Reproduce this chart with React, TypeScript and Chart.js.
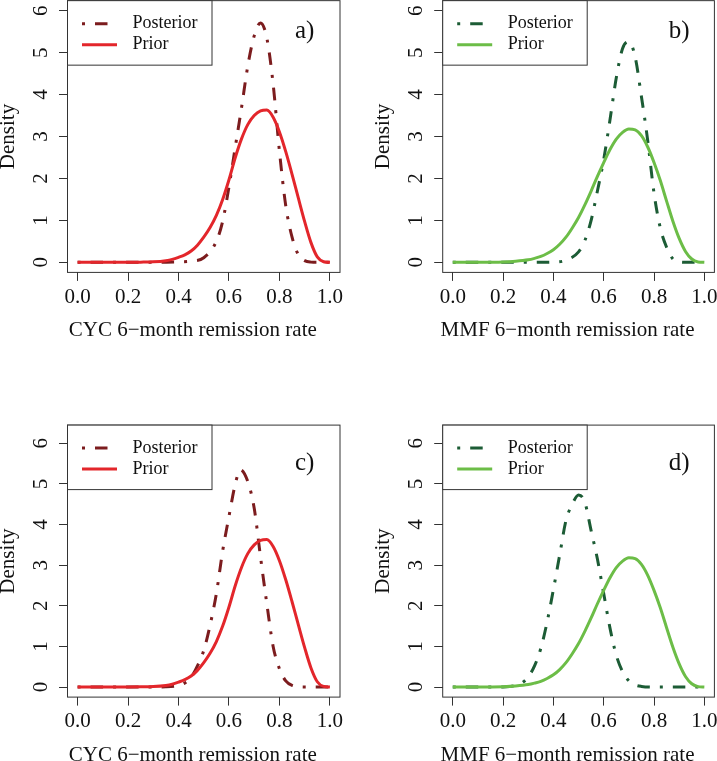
import React, { useEffect, useRef } from "react";
import { Chart, registerables } from "chart.js";

Chart.register(...registerables);

// ---------- DATA ----------
const xTickValues = [0, 0.2, 0.4, 0.6, 0.8, 1.0];
const yTickValues = [0, 1, 2, 3, 4, 5, 6];

// CYC prior (panels a and c)
const priorCycX = [0, 0.1, 0.2, 0.25, 0.3, 0.35, 0.375, 0.4, 0.425, 0.45, 0.475, 0.5, 0.525, 0.55, 0.575, 0.6, 0.625, 0.65, 0.675, 0.7, 0.725, 0.75, 0.775, 0.8, 0.825, 0.85, 0.875, 0.9, 0.925, 0.95, 0.975, 1.0];
const priorCycY = [0, 0, 0.001, 0.004, 0.012, 0.04, 0.07, 0.12, 0.18, 0.27, 0.41, 0.6, 0.83, 1.12, 1.5, 1.97, 2.5, 2.95, 3.29, 3.5, 3.61, 3.63, 3.46, 3.11, 2.64, 2.1, 1.53, 0.97, 0.47, 0.13, 0.015, 0];

// CYC posterior, panel a
const postCycAX = [0, 0.1, 0.2, 0.3, 0.35, 0.4, 0.45, 0.5, 0.55, 0.575, 0.6, 0.625, 0.65, 0.675, 0.7, 0.725, 0.75, 0.775, 0.8, 0.825, 0.85, 0.875, 0.9, 0.925, 0.95, 1.0];
const postCycAY = [0, 0, 0, 0, 0.002, 0.01, 0.03, 0.11, 0.5, 0.98, 1.8, 2.75, 3.7, 4.7, 5.4, 5.71, 5.35, 4.25, 2.65, 1.35, 0.6, 0.18, 0.04, 0.005, 0, 0];

// CYC posterior, panel c
const postCycCX = [0, 0.1, 0.2, 0.3, 0.35, 0.4, 0.425, 0.45, 0.475, 0.5, 0.525, 0.55, 0.575, 0.6, 0.625, 0.645, 0.675, 0.7, 0.725, 0.75, 0.775, 0.8, 0.825, 0.85, 0.9, 1.0];
const postCycCY = [0, 0, 0, 0, 0.005, 0.04, 0.1, 0.24, 0.52, 0.9, 1.52, 2.3, 3.35, 4.2, 5.0, 5.35, 5.05, 4.4, 3.2, 2.05, 1.0, 0.45, 0.15, 0.04, 0, 0];

// MMF prior (panels b and d)
const priorMmfX = [0, 0.1, 0.15, 0.2, 0.25, 0.3, 0.325, 0.35, 0.375, 0.4, 0.425, 0.45, 0.475, 0.5, 0.525, 0.55, 0.575, 0.6, 0.625, 0.65, 0.675, 0.7, 0.725, 0.75, 0.775, 0.8, 0.825, 0.85, 0.875, 0.9, 0.925, 0.95, 0.975, 1.0];
const priorMmfY = [0, 0, 0.002, 0.008, 0.025, 0.06, 0.095, 0.14, 0.21, 0.3, 0.43, 0.6, 0.82, 1.07, 1.37, 1.7, 2.05, 2.38, 2.69, 2.94, 3.1, 3.18, 3.16, 3.02, 2.75, 2.38, 1.95, 1.46, 0.98, 0.57, 0.26, 0.08, 0.01, 0];

// MMF posterior, panel b
const postMmfBX = [0, 0.2, 0.3, 0.35, 0.4, 0.45, 0.5, 0.525, 0.55, 0.575, 0.6, 0.625, 0.65, 0.675, 0.7, 0.725, 0.75, 0.775, 0.8, 0.825, 0.85, 0.875, 0.9, 0.95, 1.0];
const postMmfBY = [0, 0, 0, 0.001, 0.005, 0.05, 0.25, 0.52, 1.0, 1.7, 2.45, 3.4, 4.4, 5.1, 5.26, 4.9, 3.95, 2.9, 1.65, 0.82, 0.36, 0.08, 0.01, 0, 0];

// MMF posterior, panel d
const postMmfDX = [0, 0.1, 0.2, 0.225, 0.25, 0.275, 0.3, 0.325, 0.35, 0.375, 0.4, 0.425, 0.45, 0.475, 0.5, 0.525, 0.55, 0.575, 0.6, 0.625, 0.65, 0.675, 0.7, 0.725, 0.75, 0.8, 1.0];
const postMmfDY = [0, 0, 0, 0.01, 0.04, 0.1, 0.25, 0.52, 0.95, 1.6, 2.4, 3.25, 4.1, 4.5, 4.73, 4.55, 3.85, 3.15, 2.3, 1.45, 0.78, 0.38, 0.15, 0.05, 0.015, 0, 0];

const legendLabels = ["Posterior", "Prior"];
const panelLabels = ["a)", "b)", "c)", "d)"];
const xTitles = ["CYC 6\u2212month remission rate", "MMF 6\u2212month remission rate", "CYC 6\u2212month remission rate", "MMF 6\u2212month remission rate"];
const yTitle = "Density";

// ---------- STYLE ----------
const FONT = "'Liberation Serif', 'Times New Roman', serif";
const RED_PRIOR = "#e3262b";
const RED_POST = "#7c1c1e";
const GREEN_PRIOR = "#6cbd47";
const GREEN_POST = "#1c5c35";
const AXIS = "#333333";
const DASH = [3, 10, 12.5, 10];

type Panel = {
  left: number; top: number; w: number; h: number;
  L: number; R: number; T: number; B: number;
  yMin: number; yMax: number;
  priorX: number[]; priorY: number[];
  postX: number[]; postY: number[];
  priorColor: string; postColor: string;
  label: string; xTitle: string;
};

const panels: Panel[] = [
  { left: 0, top: 0, w: 357, h: 380, L: 67.5, R: 340, T: 0.65, B: 272.4, yMin: -0.24, yMax: 6.24,
    priorX: priorCycX, priorY: priorCycY, postX: postCycAX, postY: postCycAY,
    priorColor: RED_PRIOR, postColor: RED_POST, label: panelLabels[0], xTitle: xTitles[0] },
  { left: 357, top: 0, w: 380, h: 380, L: 85.7, R: 357.4, T: 0.65, B: 272.4, yMin: -0.24, yMax: 6.24,
    priorX: priorMmfX, priorY: priorMmfY, postX: postMmfBX, postY: postMmfBY,
    priorColor: GREEN_PRIOR, postColor: GREEN_POST, label: panelLabels[1], xTitle: xTitles[1] },
  { left: 0, top: 380, w: 357, h: 420, L: 67.5, R: 340, T: 45.1, B: 317.1, yMin: -0.248, yMax: 6.448,
    priorX: priorCycX, priorY: priorCycY, postX: postCycCX, postY: postCycCY,
    priorColor: RED_PRIOR, postColor: RED_POST, label: panelLabels[2], xTitle: xTitles[2] },
  { left: 357, top: 380, w: 380, h: 420, L: 85.7, R: 357.4, T: 45.1, B: 317.1, yMin: -0.248, yMax: 6.448,
    priorX: priorMmfX, priorY: priorMmfY, postX: postMmfDX, postY: postMmfDY,
    priorColor: GREEN_PRIOR, postColor: GREEN_POST, label: panelLabels[3], xTitle: xTitles[3] },
];

const toPoints = (xs: number[], ys: number[]) => xs.map((x, i) => ({ x, y: ys[i] }));

function makeDecor(p: Panel) {
  return {
    id: "decor",
    afterDraw(chart: any) {
      const ctx = chart.ctx as CanvasRenderingContext2D;
      const a = chart.chartArea;
      const xs = chart.scales.x;
      const ys = chart.scales.y;
      ctx.save();
      // plot box
      ctx.strokeStyle = AXIS;
      ctx.lineWidth = 1;
      ctx.setLineDash([]);
      ctx.strokeRect(a.left, a.top, a.right - a.left, a.bottom - a.top);

      // legend
      const lw = 144.5, lh = 64.5;
      ctx.fillStyle = "#ffffff";
      ctx.fillRect(a.left, a.top, lw, lh);
      ctx.strokeRect(a.left, a.top, lw, lh);
      const rows = [
        { text: legendLabels[0], color: p.postColor, dash: DASH, dy: 23 },
        { text: legendLabels[1], color: p.priorColor, dash: [] as number[], dy: 44 },
      ];
      for (const r of rows) {
        ctx.beginPath();
        ctx.strokeStyle = r.color;
        ctx.lineWidth = 3;
        ctx.setLineDash(r.dash);
        ctx.moveTo(a.left + 14.5, a.top + r.dy);
        ctx.lineTo(a.left + 49.5, a.top + r.dy);
        ctx.stroke();
        ctx.setLineDash([]);
        ctx.fillStyle = "#111111";
        ctx.font = `18px ${FONT}`;
        ctx.textAlign = "left";
        ctx.textBaseline = "middle";
        ctx.fillText(r.text, a.left + 65, a.top + r.dy);
      }

      // panel label
      ctx.fillStyle = "#111111";
      ctx.font = `25px ${FONT}`;
      ctx.textAlign = "center";
      ctx.textBaseline = "middle";
      ctx.fillText(p.label, xs.getPixelForValue(0.9), ys.getPixelForValue(5.5));

      // axis titles
      ctx.font = `21px ${FONT}`;
      ctx.textAlign = "center";
      ctx.textBaseline = "alphabetic";
      ctx.fillText(p.xTitle, (a.left + a.right) / 2 - 11, a.bottom + 64);
      ctx.translate(a.left - 59, (a.top + a.bottom) / 2);
      ctx.rotate(-Math.PI / 2);
      ctx.textBaseline = "middle";
      ctx.fillText(yTitle, 0, 0);
      ctx.restore();
    },
  };
}

function PanelChart({ p }: { p: Panel }) {
  const ref = useRef<HTMLCanvasElement | null>(null);
  useEffect(() => {
    if (!ref.current) return;
    const xH = 90;
    const chart = new Chart(ref.current, {
      type: "line",
      data: {
        datasets: [
          {
            label: legendLabels[1],
            data: toPoints(p.priorX, p.priorY),
            borderColor: p.priorColor,
            borderWidth: 3,
            pointRadius: 0,
            fill: false,
            cubicInterpolationMode: "monotone",
          },
          {
            label: legendLabels[0],
            data: toPoints(p.postX, p.postY),
            borderColor: p.postColor,
            borderWidth: 3,
            borderDash: DASH,
            pointRadius: 0,
            fill: false,
            cubicInterpolationMode: "monotone",
          },
        ],
      },
      options: {
        responsive: false,
        animation: false,
        events: [],
        layout: { padding: { left: 0, top: p.T, right: p.w - p.R, bottom: p.h - p.B - xH } },
        plugins: { legend: { display: false }, tooltip: { enabled: false }, title: { display: false } },
        scales: {
          x: {
            type: "linear",
            min: -0.04,
            max: 1.04,
            afterBuildTicks: (s: any) => { s.ticks = xTickValues.map((v) => ({ value: v })); },
            afterFit: (s: any) => {
              s.height = xH;
              s.paddingLeft = 0; s.paddingRight = 0; s.paddingTop = 0; s.paddingBottom = 0;
            },
            ticks: {
              autoSkip: false,
              maxRotation: 0,
              minRotation: 0,
              padding: 3.5,
              color: "#111111",
              font: { family: FONT, size: 21 },
              callback: (v: any) => Number(v).toFixed(1),
            },
            grid: { drawOnChartArea: false, drawTicks: true, tickLength: 8.5, color: AXIS, lineWidth: 1 },
            border: { display: false },
          },
          y: {
            type: "linear",
            min: p.yMin,
            max: p.yMax,
            afterBuildTicks: (s: any) => { s.ticks = yTickValues.map((v) => ({ value: v })); },
            afterFit: (s: any) => {
              s.width = p.L;
              s.paddingLeft = 0; s.paddingRight = 0; s.paddingTop = 0; s.paddingBottom = 0;
            },
            ticks: {
              autoSkip: false,
              minRotation: 90,
              maxRotation: 90,
              crossAlign: "center",
              padding: 12.5,
              color: "#111111",
              font: { family: FONT, size: 21 },
              callback: (v: any) => String(Math.round(Number(v))),
            },
            grid: { drawOnChartArea: false, drawTicks: true, tickLength: 8.5, color: AXIS, lineWidth: 1 },
            border: { display: false },
          },
        },
      },
      plugins: [makeDecor(p)],
    } as any);
    return () => chart.destroy();
  }, [p]);
  return (
    <canvas
      ref={ref}
      width={p.w}
      height={p.h}
      style={{ position: "absolute", left: p.left, top: p.top, width: p.w, height: p.h }}
    />
  );
}

export default function App() {
  return (
    <div
      style={{
        position: "absolute",
        left: 0,
        top: 0,
        width: 717,
        height: 761,
        overflow: "hidden",
        background: "#ffffff",
      }}
    >
      {panels.map((p, i) => (
        <PanelChart key={i} p={p} />
      ))}
    </div>
  );
}
